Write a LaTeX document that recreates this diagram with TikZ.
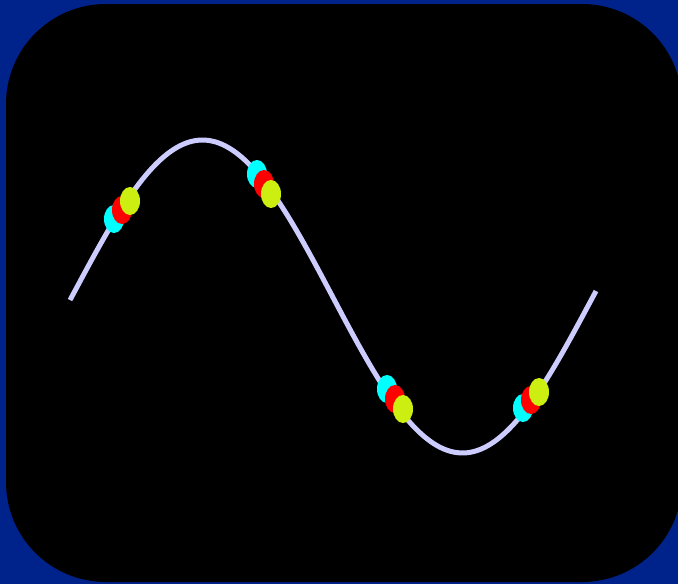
\documentclass[tikz,border=0pt]{standalone}
\usepackage{tikz}
\definecolor{bgblue}{HTML}{00228B}
\definecolor{wave}{HTML}{CCCCFF}
\definecolor{dotc}{HTML}{00FFFF}
\definecolor{dotr}{HTML}{FF0000}
\definecolor{doty}{HTML}{CCEE11}
\tikzset{
  panel/.style={fill=black, rounded corners=100pt},
  curve/.style={draw=wave, line width=5pt, smooth},
  blob/.style={x radius=10pt, y radius=14pt},
}
% one group of three dots: centre of red dot, step to the yellow one
\newcommand{\dotgroup}[4]{%
  \fill[dotc] (#1-#3,#2-#4) ellipse [blob];
  \fill[dotr] (#1,#2) ellipse [blob];
  \fill[doty] (#1+#3,#2+#4) ellipse [blob];
}
\begin{document}
\begin{tikzpicture}[x=1pt, y=-1pt]
  \fill[bgblue] (0,0) rectangle (678,584);
  \useasboundingbox (0,0) rectangle (678,584);
  \fill[panel] (6,4) rectangle (682,582);
  % the wave
  \draw[curve] plot[domain=70:596, samples=160]
    (\x, {296.5-155*sin((\x-73.5)/518*360)+(\x-333)/263*3});
  % dots on the wave
  \dotgroup{122}{210}{8}{-9}
  \dotgroup{264}{184}{7}{10}
  \dotgroup{395}{399}{8}{10}
  \dotgroup{531}{400}{8}{-8}
\end{tikzpicture}
\end{document}
